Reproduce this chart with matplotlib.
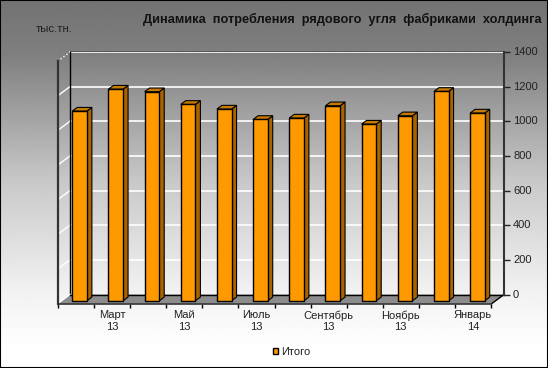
import numpy as np
import matplotlib.pyplot as plt
from matplotlib.patches import Polygon
from matplotlib.transforms import ScaledTranslation

plt.rcParams['font.family'] = ['Liberation Sans', 'DejaVu Sans']

# значения по месяцам, февраль 13 - январь 14
values = [1095, 1222, 1207, 1134, 1107, 1047, 1055, 1126, 1020, 1068, 1209, 1084]
month_labels = ['', 'Март\n13', '', 'Май\n13', '', 'Июль\n13', '', 'Сентябрь\n13', '', 'Ноябрь\n13', '', 'Январь\n14']
y_ticks = [0, 200, 400, 600, 800, 1000, 1200, 1400]

W, H = 548, 368
fig = plt.figure(figsize=(W / 100, H / 100), dpi=100)


def add_axes_px(x0, y0, x1, y1):
    return fig.add_axes([x0 / W, 1 - y1 / H, (x1 - x0) / W, (y1 - y0) / H])


# фон - вертикальный градиент
bg = fig.add_axes([0, 0, 1, 1])
grad = np.interp(np.linspace(0, 1, 368), [0, 0.15, 0.5, 0.8, 0.95, 1], [0.45, 0.5, 0.79, 0.95, 1, 1])
bg.imshow(grad[:, None], cmap='gray', vmin=0, vmax=1, aspect='auto', interpolation='bilinear')
bg.set_xticks([])
bg.set_yticks([])
for s in bg.spines.values():
    s.set_color('black')
    s.set_linewidth(1.5)

# задняя стенка
ax = add_axes_px(70, 52, 504, 294.5)
ax.patch.set_visible(False)
ax.set_xlim(0, 12)
ax.set_ylim(0, 1400)
px_x = 12 / 434
px_y = 1400 / 242.5
depth_x, depth_y = 12.5 * px_x, 9.3 * px_y

# пол
ax.add_patch(Polygon([(0, 0), (12, 0), (12 - depth_x, -depth_y), (-depth_x, -depth_y)],
                     closed=True, fc='#8c8c8c', ec='none', clip_on=False, zorder=1))
ax.plot([12, 12 - depth_x], [0, -depth_y], color='black', lw=1, clip_on=False, zorder=2)

# сетка и наклонные линии левой стенки
for t in y_ticks[1:]:
    ax.plot([0, 12], [t, t], color='white', lw=1.2, clip_on=False, zorder=1.5)
    ax.plot([-depth_x, 0], [t - depth_y, t], color='white', lw=1, clip_on=False, zorder=1.5,
            ls=':' if t == 1400 else '-')
ax.plot([0, 12], [1400 + 0.9 * px_y] * 2, color='#555555', lw=0.7, clip_on=False, zorder=1.5)
ax.plot([0, 0], [0, 1400], color='black', lw=1, clip_on=False, zorder=1.6)
ax.plot([-depth_x, 0], [-depth_y, 0], color='white', lw=1, clip_on=False, zorder=1.6)
ax.plot([0, 12], [0, 0], color='black', lw=1, clip_on=False, zorder=1.6)

# столбцы: передняя грань смещена от стенки, боковая и верхняя - полигоны
front_x, front_y = 8.5 * px_x, 6.3 * px_y
side_x, side_y = 5 * px_x, 3.7 * px_y
bar_w = 14.6 * px_x
centers = np.arange(len(values)) + 0.5
bars = ax.bar(centers - front_x, values, width=bar_w, bottom=-front_y, color='#ff9900', edgecolor='black',
              linewidth=1, clip_on=False, zorder=4, label='Итого')
for c, v in zip(centers - front_x, values):
    left, right = c - bar_w / 2, c + bar_w / 2
    top = v - front_y
    ax.add_patch(Polygon([(right, -front_y), (right + side_x, -front_y + side_y),
                          (right + side_x, top + side_y), (right, top)],
                         closed=True, fc='#a86400', ec='black', lw=0.8, clip_on=False, zorder=3.5))
    ax.add_patch(Polygon([(left, top), (left + side_x, top + side_y), (right + side_x, top + side_y), (right, top)],
                         closed=True, fc='#c77a00', ec='black', lw=0.8, clip_on=False, zorder=3.5))

ax.set_xticks([])
ax.yaxis.tick_right()
ax.set_yticks(y_ticks)
ax.tick_params(axis='y', length=4, width=1, color='#222222', labelsize=8, labelcolor='#222222', pad=2.5)
# подписи чуть выше засечек
shift = ScaledTranslation(0, 1 / 100, fig.dpi_scale_trans)
for lab in ax.get_yticklabels():
    lab.set_transform(lab.get_transform() + shift)
for s in ['top', 'left', 'bottom']:
    ax.spines[s].set_visible(False)
ax.spines['right'].set_color('#333333')
ax.spines['right'].set_linewidth(1.5)

# передняя плоскость: левая ось и подписи месяцев
front = add_axes_px(58, 61.3, 491, 303.8)
front.patch.set_visible(False)
front.set_xlim(0, 12)
front.set_ylim(0, 1400)
front.set_yticks([])
front.set_xticks(range(13))
front.set_xticklabels([])
front.set_xticks(centers, labels=month_labels, minor=True)
front.tick_params(axis='x', which='major', length=3, width=1, color='black')
front.tick_params(axis='x', which='minor', length=0, labelsize=8, labelcolor='#222222', pad=4.5)
for s in ['top', 'right']:
    front.spines[s].set_visible(False)
front.spines['left'].set_color('#333333')
front.spines['left'].set_linewidth(1.6)
front.spines['bottom'].set_color('#333333')
front.spines['bottom'].set_linewidth(1.2)

fig.text(342.5 / W, 1 - 19.5 / H, 'Динамика  потребления  рядового  угля  фабриками  холдинга', ha='center', va='center',
         fontsize=9.15, fontweight='bold', color='#111111')
fig.text(36 / W, 1 - 29 / H, 'тыс.тн.', ha='left', va='center', fontsize=8.2, color='#222222')

leg = ax.legend(handles=[bars], loc='center', bbox_to_anchor=(291.5 / W, 1 - 352 / H), bbox_transform=fig.transFigure,
                frameon=False, fontsize=8, handlelength=0.45, handleheight=0.45, handletextpad=0.3,
                labelcolor='#222222', borderpad=0)

fig.savefig('out.png', dpi=100)
